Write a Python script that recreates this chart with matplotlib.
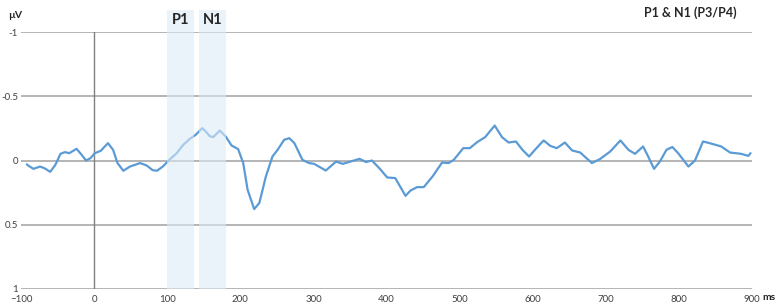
import matplotlib.pyplot as plt
from matplotlib.patches import Rectangle

plt.rcParams['font.family'] = ['Lato', 'DejaVu Sans']

# grand average waveform (ms, µV)
time_ms = [-92, -90, -83, -74, -68, -60, -53, -46, -40, -34, -24, -17, -11, -5,
           1, 9, 19, 26, 32, 40, 49, 63, 72, 80, 86, 94, 104, 113, 122, 131,
           139, 148, 154, 158, 163, 172, 180, 188, 197, 204, 210, 219, 226, 235,
           244, 251, 260, 267, 274, 285, 294, 301, 317, 331, 340, 351, 363, 372,
           380, 390, 401, 412, 426, 433, 442, 451, 463, 476, 485, 492, 505, 514,
           524, 535, 548, 558, 567, 577, 586, 595, 604, 615, 624, 633, 644, 654,
           665, 681, 692, 706, 720, 731, 740, 751, 758, 766, 774, 783, 791, 799,
           813, 822, 833, 842, 858, 870, 885, 895, 898]
amplitude = [0.03, 0.04, 0.065, 0.047, 0.06, 0.088, 0.034, -0.052, -0.065, -0.057,
             -0.091, -0.044, 0.0, -0.018, -0.057, -0.075, -0.135, -0.083, 0.02,
             0.08, 0.047, 0.02, 0.039, 0.075, 0.08, 0.047, -0.011, -0.057, -0.122,
             -0.169, -0.2, -0.252, -0.218, -0.19, -0.182, -0.233, -0.187, -0.117,
             -0.089, 0.02, 0.228, 0.378, 0.331, 0.124, -0.031, -0.083, -0.161,
             -0.174, -0.135, -0.005, 0.02, 0.026, 0.078, 0.008, 0.026, 0.008,
             -0.013, 0.012, 0.0, 0.059, 0.132, 0.137, 0.275, 0.233, 0.207, 0.207,
             0.124, 0.016, 0.02, -0.005, -0.096, -0.096, -0.143, -0.182, -0.272,
             -0.182, -0.14, -0.148, -0.083, -0.031, -0.089, -0.156, -0.114, -0.096,
             -0.14, -0.078, -0.062, 0.02, -0.011, -0.07, -0.156, -0.083, -0.052,
             -0.109, -0.031, 0.065, 0.008, -0.083, -0.105, -0.057, 0.047, 0.0,
             -0.148, -0.135, -0.109, -0.062, -0.052, -0.036, -0.057]

# component windows (label, start ms, end ms)
windows = [("P1", 100, 136), ("N1", 143, 181)]

x_ticks = [-100, 0, 100, 200, 300, 400, 500, 600, 700, 800, 900]
y_ticks = [-1, -0.5, 0, 0.5, 1]
y_labels = ["-1", "-0.5", "0", "0.5", "1"]

fig = plt.figure(figsize=(7.77, 3.06), dpi=100)
ax = fig.add_axes([21 / 777, 17 / 306, 731 / 777, 257 / 306])

ax.plot(time_ms, amplitude, color='#5B9BD5', lw=1.6, zorder=2,
        solid_joinstyle='round', solid_capstyle='round')

for y in y_ticks:
    ax.axhline(y, color='#A0A0A0', lw=1.1, zorder=1)
ax.axvline(0, color='#808080', lw=1.0, zorder=1)

trans = ax.get_xaxis_transform()
for name, start, end in windows:
    ax.add_patch(Rectangle((start, 0), end - start, 1.087, transform=trans,
                           facecolor='#DDEBF7', edgecolor='none', alpha=0.6,
                           zorder=3, clip_on=False))
    ax.text((start + end) / 2, 1.047, name, transform=trans, ha='center',
            va='center', fontsize=10.5, fontweight='bold', color='#262626')

ax.set_xlim(-100, 900)
ax.set_ylim(1, -1)
ax.set_xticks(x_ticks)
ax.set_yticks(y_ticks)
ax.set_yticklabels(y_labels)
ax.tick_params(length=0, labelsize=7, colors='#404040')
ax.tick_params(axis='y', pad=2)
ax.tick_params(axis='x', pad=4)
for s in ax.spines.values():
    s.set_visible(False)

fig.text(8 / 777, 1 - 15 / 306, 'µV', fontsize=7.5, fontweight='bold',
         color='#262626', va='center')
fig.text(737 / 777, 1 - 13 / 306, 'P1 & N1 (P3/P4)', fontsize=9,
         fontweight='bold', color='#262626', ha='right', va='center')
fig.text(762 / 777, 1 - 298 / 306, 'ms', fontsize=7.5, fontweight='bold',
         color='#262626', va='center')

fig.savefig('out.png', dpi=100)
